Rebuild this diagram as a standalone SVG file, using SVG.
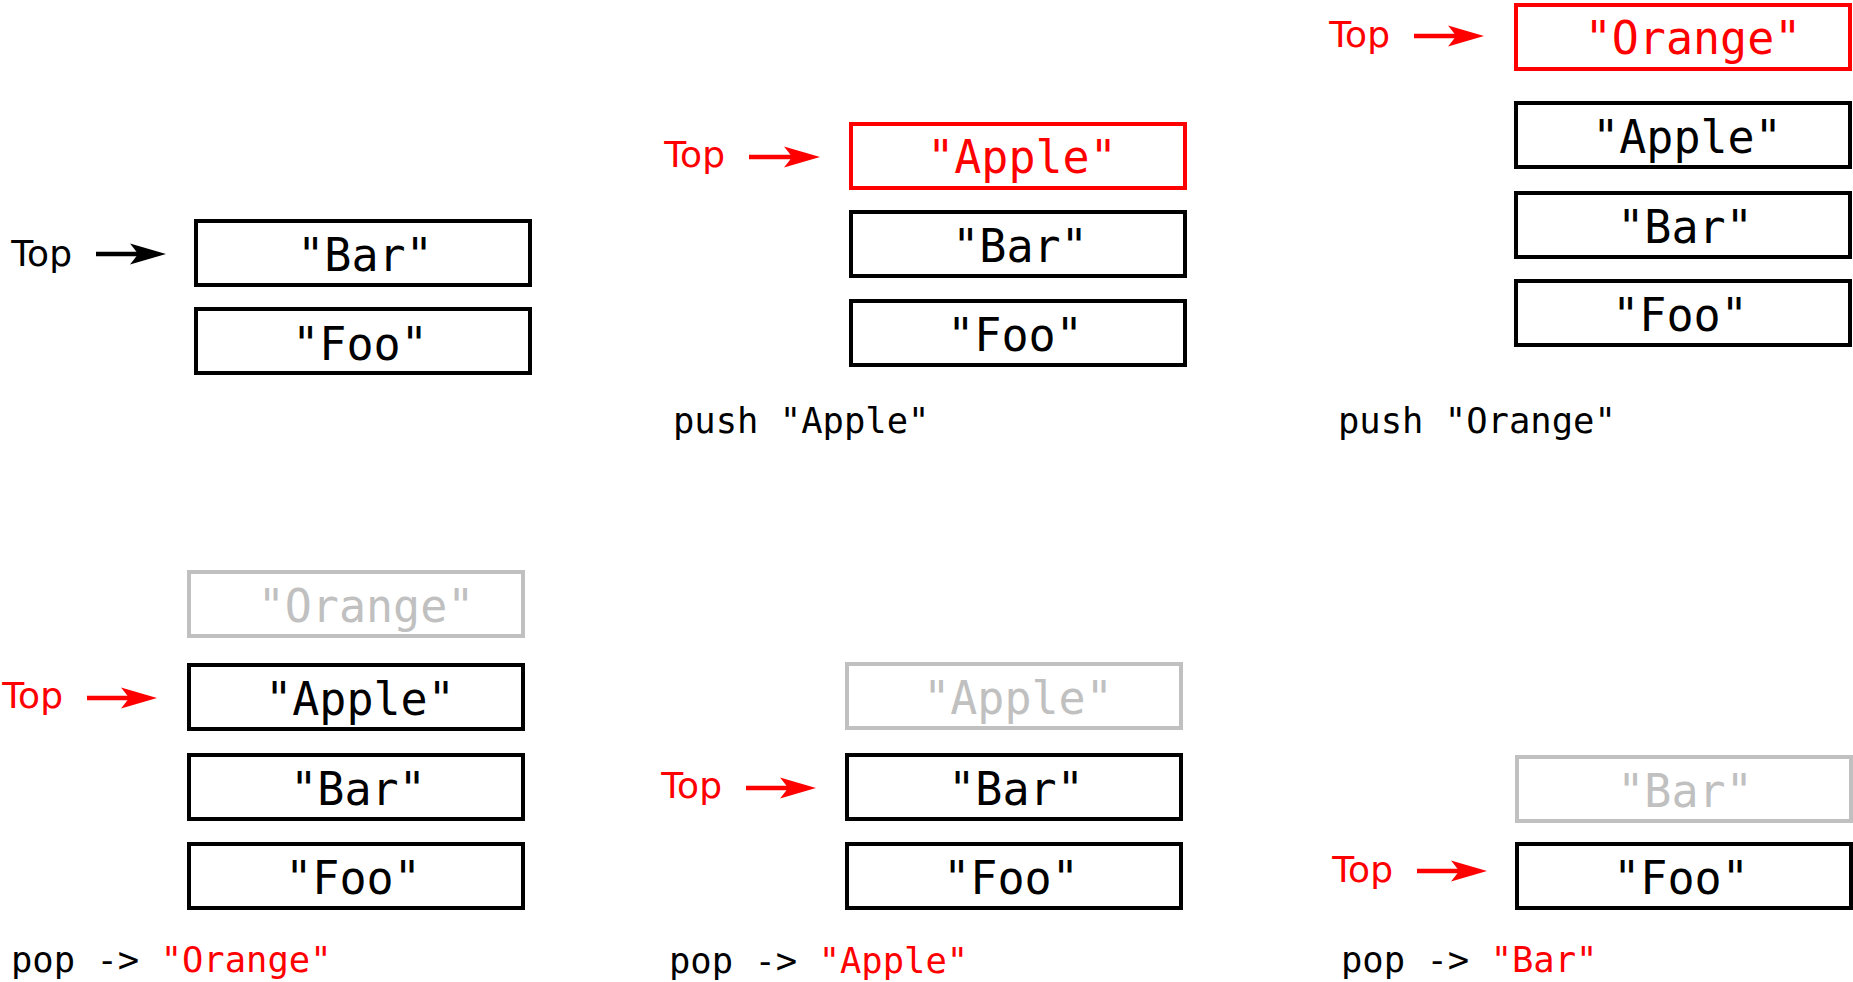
<svg xmlns="http://www.w3.org/2000/svg" width="1853" height="982" viewBox="0 0 1853 982">
<style>
  .box { fill: #ffffff; stroke: #000000; stroke-width: 4; }
  .box.red { stroke: #ff0000; }
  .box.gray { stroke: #c0c0c0; }
  .val { font-family: "DejaVu Sans Mono", "Liberation Mono", monospace; font-size: 47px; text-anchor: middle; fill: #000000; }
  .val.red { fill: #ff0000; }
  .val.gray { fill: #c0c0c0; }
  .top { font-family: "DejaVu Sans", "Liberation Sans", sans-serif; font-size: 36px; text-anchor: end; fill: #000000; }
  .top.red { fill: #ff0000; }
  .cap { font-family: "DejaVu Sans Mono", "Liberation Mono", monospace; font-size: 35.5px; fill: #000000; }
  .hl { fill: #ff0000; }
  .arrow { fill: none; stroke-width: 4.5; stroke: #000000; marker-end: url(#headK); }
  .arrow.red { stroke: #ff0000; marker-end: url(#headR); }
</style>
<defs>
  <marker id="headK" markerUnits="userSpaceOnUse" viewBox="-10 -12 40 24" markerWidth="40" markerHeight="24" refX="0" refY="0" orient="auto">
    <path d="M28,0 L-8,-10.5 Q-2,-3 0,0 Q-2,3 -8,10.5 Z" fill="#000000"/>
  </marker>
  <marker id="headR" markerUnits="userSpaceOnUse" viewBox="-10 -12 40 24" markerWidth="40" markerHeight="24" refX="0" refY="0" orient="auto">
    <path d="M28,0 L-8,-10.5 Q-2,-3 0,0 Q-2,3 -8,10.5 Z" fill="#ff0000"/>
  </marker>
</defs>
<rect x="0" y="0" width="1853" height="982" fill="#ffffff"/>

<!-- Panel 1 -->
<g id="p1-bar"><rect class="box" x="196" y="221" width="334" height="64"/><text class="val" x="365" y="271" textLength="135.5" lengthAdjust="spacingAndGlyphs">"Bar"</text></g>
<g id="p1-foo"><rect class="box" x="196" y="309" width="334" height="64"/><text class="val" x="360" y="359.5" textLength="135.5" lengthAdjust="spacingAndGlyphs">"Foo"</text></g>
<g id="p1-top"><text class="top" x="72" y="266">Top</text></g>

<!-- Panel 2 -->
<g id="p2-apple"><rect class="box red" x="851" y="124" width="334" height="64"/><text class="val red" x="1022" y="173" textLength="189.6" lengthAdjust="spacingAndGlyphs">"Apple"</text></g>
<g id="p2-bar"><rect class="box" x="851" y="212" width="334" height="64"/><text class="val" x="1020" y="262" textLength="135.5" lengthAdjust="spacingAndGlyphs">"Bar"</text></g>
<g id="p2-foo"><rect class="box" x="851" y="301" width="334" height="64"/><text class="val" x="1015" y="351" textLength="135.5" lengthAdjust="spacingAndGlyphs">"Foo"</text></g>
<g id="p2-top"><text class="top red" x="725" y="167">Top</text></g>
<g id="p2-caption"><text class="cap" x="673" y="433">push "Apple"</text></g>

<!-- Panel 3 -->
<g id="p3-orange"><rect class="box red" x="1516" y="5" width="334" height="64"/><text class="val red" x="1693" y="54" textLength="216.7" lengthAdjust="spacingAndGlyphs">"Orange"</text></g>
<g id="p3-apple"><rect class="box" x="1516" y="103" width="334" height="64"/><text class="val" x="1687" y="152.5" textLength="189.6" lengthAdjust="spacingAndGlyphs">"Apple"</text></g>
<g id="p3-bar"><rect class="box" x="1516" y="193" width="334" height="64"/><text class="val" x="1685" y="242.5" textLength="135.5" lengthAdjust="spacingAndGlyphs">"Bar"</text></g>
<g id="p3-foo"><rect class="box" x="1516" y="281" width="334" height="64"/><text class="val" x="1680" y="330.5" textLength="135.5" lengthAdjust="spacingAndGlyphs">"Foo"</text></g>
<g id="p3-top"><text class="top red" x="1390" y="47">Top</text></g>
<g id="p3-caption"><text class="cap" x="1338" y="433">push "Orange"</text></g>

<!-- Panel 4 -->
<g id="p4-orange"><rect class="box gray" x="189" y="572" width="334" height="64"/><text class="val gray" x="366" y="621.5" textLength="216.7" lengthAdjust="spacingAndGlyphs">"Orange"</text></g>
<g id="p4-apple"><rect class="box" x="189" y="665" width="334" height="64"/><text class="val" x="360" y="714.5" textLength="189.6" lengthAdjust="spacingAndGlyphs">"Apple"</text></g>
<g id="p4-bar"><rect class="box" x="189" y="755" width="334" height="64"/><text class="val" x="358" y="804.5" textLength="135.5" lengthAdjust="spacingAndGlyphs">"Bar"</text></g>
<g id="p4-foo"><rect class="box" x="189" y="844" width="334" height="64"/><text class="val" x="353" y="893.5" textLength="135.5" lengthAdjust="spacingAndGlyphs">"Foo"</text></g>
<g id="p4-top"><text class="top red" x="63" y="708">Top</text></g>
<g id="p4-caption"><text class="cap" x="11" y="972">pop -&gt; <tspan class="hl">"Orange"</tspan></text></g>

<!-- Panel 5 -->
<g id="p5-apple"><rect class="box gray" x="847" y="664" width="334" height="64"/><text class="val gray" x="1018" y="713.5" textLength="189.6" lengthAdjust="spacingAndGlyphs">"Apple"</text></g>
<g id="p5-bar"><rect class="box" x="847" y="755" width="334" height="64"/><text class="val" x="1016" y="804.5" textLength="135.5" lengthAdjust="spacingAndGlyphs">"Bar"</text></g>
<g id="p5-foo"><rect class="box" x="847" y="844" width="334" height="64"/><text class="val" x="1011" y="893.5" textLength="135.5" lengthAdjust="spacingAndGlyphs">"Foo"</text></g>
<g id="p5-top"><text class="top red" x="722" y="798">Top</text></g>
<g id="p5-caption"><text class="cap" x="669" y="973">pop -&gt; <tspan class="hl">"Apple"</tspan></text></g>

<!-- Panel 6 -->
<g id="p6-bar"><rect class="box gray" x="1517" y="757" width="334" height="64"/><text class="val gray" x="1685" y="806.5" textLength="135.5" lengthAdjust="spacingAndGlyphs">"Bar"</text></g>
<g id="p6-foo"><rect class="box" x="1517" y="844" width="334" height="64"/><text class="val" x="1681" y="893.5" textLength="135.5" lengthAdjust="spacingAndGlyphs">"Foo"</text></g>
<g id="p6-top"><text class="top red" x="1393" y="882">Top</text></g>
<g id="p6-caption"><text class="cap" x="1341" y="972">pop -&gt; <tspan class="hl">"Bar"</tspan></text></g>

<!-- Connectors -->
<g id="connectors">
  <line class="arrow" x1="96" y1="254" x2="138" y2="254"/>
  <line class="arrow red" x1="749" y1="157" x2="792" y2="157"/>
  <line class="arrow red" x1="1414" y1="36" x2="1456" y2="36"/>
  <line class="arrow red" x1="87" y1="698" x2="129" y2="698"/>
  <line class="arrow red" x1="746" y1="788" x2="788" y2="788"/>
  <line class="arrow red" x1="1417" y1="871" x2="1459" y2="871"/>
</g>
</svg>
